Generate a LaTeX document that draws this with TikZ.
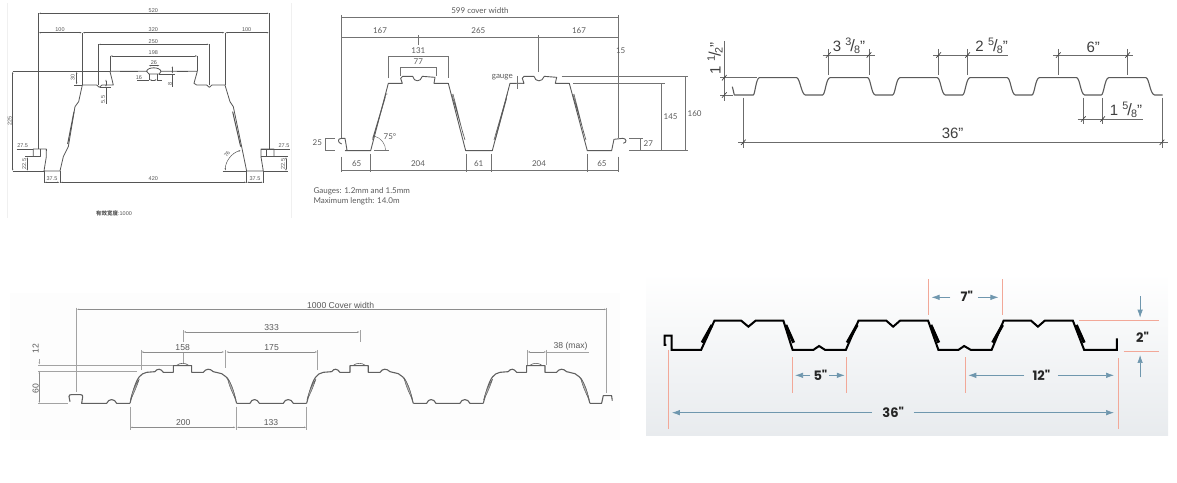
\documentclass[tikz,border=0pt]{standalone}
\usepackage{fontspec}
\setmainfont{Liberation Sans}
\newfontfamily\lightfont{Lato}
\newfontfamily\boldfont{Poppins}
\newfontfamily\cjkfont{Noto Sans CJK SC}
\usetikzlibrary{arrows.meta}
\definecolor{lineone}{HTML}{555555}
\definecolor{linetwo}{HTML}{5A5A5A}
\definecolor{linefour}{HTML}{8C8C8C}
\definecolor{sheetfour}{HTML}{606060}
\definecolor{redline}{HTML}{F2A898}
\definecolor{bluearrow}{HTML}{6F97AE}
\definecolor{backfoot}{HTML}{E8EBEE}
\newcommand{\dimfrac}[2]{\raisebox{.38em}{\scalebox{.72}{#1}}\kern-.06em\scalebox{1.1}{/}\kern-.06em\raisebox{-.14em}{\scalebox{.72}{#2}}}
\tikzset{
    zoomed/.style={x=0.3333pt,y=-0.3333pt},
    lineA/.style={lineone,line width=0.5pt},
    sheetA/.style={lineone,line width=0.8pt,line join=round},
    dimA/.style={lineA,{Latex[length=2.5pt,width=1.4pt]}-{Latex[length=2.5pt,width=1.4pt]}},
    textA/.style={font=\fontsize{5.5}{6}\selectfont,text=lineone,inner sep=0pt},
    lineB/.style={linetwo!85,line width=0.5pt},
    sheetB/.style={linetwo,line width=0.9pt,line join=round},
    textB/.style={font=\lightfont\fontsize{8}{9}\selectfont,text=linetwo,inner sep=0pt},
    lineC/.style={linetwo!90,line width=0.8pt},
    sheetC/.style={linetwo,line width=1.1pt,line join=round},
    textC/.style={font=\fontsize{15}{16}\selectfont,text=black!75,inner sep=0pt},
    slash/.style={black!75,line width=0.7pt},
    lineD/.style={linefour!80,line width=0.7pt},
    sheetD/.style={sheetfour,line width=1.1pt,line join=round},
    dimD/.style={linefour,line width=0.6pt,{Latex[length=2.5pt,width=1.5pt]}-{Latex[length=2.5pt,width=1.5pt]}},
    textD/.style={font=\fontsize{8.6}{9}\selectfont,text=black!65,inner sep=0pt},
    lineE/.style={redline,line width=0.6pt},
    sheetE/.style={black,line width=2pt,line join=miter},
    webE/.style={black,line width=3pt},
    arrowE/.style={bluearrow,line width=0.7pt,-{Latex[length=8pt,width=5.5pt]}},
    textE/.style={font=\boldfont\bfseries\fontsize{13}{14}\selectfont,text=black!85,inner sep=0pt},
}
\begin{document}
\begin{tikzpicture}[x=1pt,y=-1pt]
    \useasboundingbox (0,0) rectangle (1177,482);

    % Panel 1: top left, one big rib
    \begin{scope}[zoomed]
        \draw[black!6,line width=0.5pt] (22,10) -- (22,655) (874,10) -- (874,655);
        % sheet
        \draw[sheetA] (100,470) -- (100,447) -- (139,447) -- (139,470) -- (132,513) -- (180,513) -- (190,470) -- (205,440) -- (225,320) -- (236,305) -- (247,255) -- (290,255) -- (298,262) -- (306,255) -- (340,255) -- (330,214) -- (440,214) -- (447,222) -- (478,222) -- (483,214) -- (592,214) -- (582,250) -- (590,255) -- (620,255) -- (628,262) -- (636,255) -- (675,255) -- (690,305) -- (700,320) -- (725,440) -- (740,513) -- (790,513) -- (783,470) -- (783,447) -- (822,447) -- (822,470);
        \draw[sheetA] (100,470) -- (122,470) -- (122,447);
        \draw[sheetA] (800,470) -- (822,470) (800,447) -- (800,470);
        \draw[sheetA,line width=1pt] (203,432) -- (222,335);
        \draw[sheetA,line width=1pt] (698,335) -- (722,440);
        \draw[sheetA] (440,214) .. controls (442,200) and (480,200) .. (483,214);
        % long dimensions
        \draw[dimA] (115,40) -- (808,40);
        \draw[dimA] (115,98) -- (247,98);
        \draw[dimA] (247,98) -- (675,98);
        \draw[dimA] (675,98) -- (808,98);
        \draw[dimA] (294,133) -- (628,133);
        \draw[dimA] (330,168) -- (593,168);
        \draw[lineA] (115,40) -- (115,447) (808,40) -- (808,447) (247,98) -- (247,255) (675,98) -- (675,255);
        \draw[lineA] (294,133) -- (294,255) (628,133) -- (628,255) (330,168) -- (330,214) (593,168) -- (593,214);
        % left and right heights
        \draw[dimA] (38,214) -- (38,514);
        \draw[lineA] (38,214) -- (330,214) (38,514) -- (132,514);
        \draw[dimA] (230,214) -- (230,255);
        \draw[lineA] (222,255) -- (247,255);
        \draw[dimA] (318,237) -- (318,262);
        \draw[lineA] (318,262) -- (318,312) (300,262) -- (332,262);
        % details on the crown
        \draw[dimA] (445,197) -- (480,197);
        \draw[lineA] (360,214) -- (415,214) (530,214) -- (565,214);
        \draw[lineA] (447,222) -- (447,240) (472,222) -- (472,240);
        \draw[dimA] (447,240) -- (472,240);
        \draw[lineA] (412,240) -- (447,240) (472,240) -- (486,240);
        \draw[dimA] (517,197) -- (517,222);
        \draw[lineA] (517,222) -- (517,262) (478,222) -- (525,222);
        % flanges
        \draw[lineA] (50,447) -- (100,447) (139,447) -- (139,452);
        \draw[lineA] (782,447) -- (870,447);
        \draw[dimA] (82,470) -- (82,514);
        \draw[lineA] (76,470) -- (100,470);
        \draw[dimA] (858,470) -- (858,514);
        \draw[lineA] (783,470) -- (864,470) (790,514) -- (864,514);
        % bottom row
        \draw[dimA] (132,547) -- (180,547);
        \draw[dimA] (180,547) -- (740,547);
        \draw[dimA] (740,547) -- (790,547);
        \draw[lineA] (132,514) -- (132,550) (180,514) -- (180,550) (740,514) -- (740,550) (790,514) -- (790,550);
        % angle
        \draw[lineA] (668,513) -- (740,513);
        \draw[lineA,{Latex[length=2.5pt,width=1.4pt]}-{Latex[length=2.5pt,width=1.4pt]}] (676,513) arc[start angle=180,end angle=255,radius=64];
        % labels
        \node[textA] (aw520) at (460,32) {520};
        \node[textA] (aw100l) at (180,89) {100};
        \node[textA] (aw320) at (460,89) {320};
        \node[textA] (aw100r) at (740,89) {100};
        \node[textA] (aw250) at (460,126) {250};
        \node[textA] (aw198) at (460,158) {198};
        \node[textA] (aw26) at (462,188) {26};
        \node[textA] (aw16) at (417,232) {16};
        \node[textA,rotate=90] (ah8) at (510,252) {8};
        \node[textA,rotate=90] (ah30) at (218,233) {30};
        \node[textA,rotate=90] (ah55) at (309,298) {5.5};
        \node[textA,rotate=90] (ah225) at (29,362) {225};
        \node[textA] (af275l) at (68,437) {27.5};
        \node[textA] (af275r) at (852,437) {27.5};
        \node[textA,rotate=90] (af225l) at (73,492) {22.5};
        \node[textA,rotate=90] (af225r) at (849,492) {22.5};
        \node[textA] (ab375l) at (156,537) {37.5};
        \node[textA] (ab420) at (460,537) {420};
        \node[textA] (ab375r) at (765,537) {37.5};
        \node[textA,rotate=55] (aang) at (681,462) {76};
        \node[textA] (acap) at (342,640) {{\cjkfont\bfseries 有效宽度}:1000};
    \end{scope}

    % Panel 2: top middle, two ribs
    \begin{scope}[shift={(300,0)},zoomed]
        % sheet
        \draw[sheetB] (125,432) .. controls (112,428) and (112,415) .. (125,415) -- (135,415) -- (141,450) -- (136,452) -- (212,452) -- (265,250) -- (307,250) -- (302,235) -- (308,229) -- (338,229) .. controls (342,247) and (362,247) .. (367,229) -- (405,232) -- (402,250) -- (445,250) -- (497,452) -- (577,452) -- (630,250) -- (672,250) -- (667,235) -- (672,229) -- (702,229) .. controls (706,247) and (727,247) .. (733,229) -- (770,232) -- (766,250) -- (808,250) -- (862,452) -- (935,452) -- (942,418) -- (968,415) .. controls (980,415) and (982,428) .. (970,430);
        % doubled webs
        \draw[sheetB,line width=0.6pt] (218,415) -- (258,282) -- (262,282) (218,420) -- (256,292);
        \draw[sheetB,line width=0.6pt] (455,282) -- (495,420) (459,282) -- (490,405);
        \draw[sheetB,line width=0.6pt] (582,420) -- (622,282) (586,420) -- (620,295);
        \draw[sheetB,line width=0.6pt] (818,282) -- (858,420) (822,282) -- (853,405);
        % top dimensions
        \draw[lineB] (125,52) -- (955,52) (125,112) -- (955,112);
        \draw[lineB] (125,45) -- (125,415) (955,45) -- (955,415);
        \draw[lineB] (354,105) -- (354,135) (716,105) -- (716,215);
        \draw[lineB] (266,235) -- (266,168) -- (446,168) -- (446,235);
        \draw[lineB] (302,228) -- (302,203) -- (409,203) -- (409,228);
        % gauge mark
        \draw[lineB] (651,228) -- (651,268) (648,250) -- (668,250);
        % heights
        \draw[lineB] (785,230) -- (1163,230) (820,250) -- (1095,250) (988,452) -- (1163,452);
        \draw[lineB] (1155,230) -- (1155,452) (1085,250) -- (1085,452);
        \draw[lineB] (988,415) -- (1030,415) (1022,415) -- (1022,452);
        \draw[lineB] (105,415) -- (75,415) -- (75,452) -- (105,452);
        % angle
        \draw[lineB] (222,452) -- (268,452);
        \draw[lineB] (257,452) arc[start angle=0,end angle=-75,radius=45];
        % bottom row
        \draw[lineB] (125,510) -- (955,510);
        \draw[lineB] (125,470) -- (125,515) (211,462) -- (211,515) (499,462) -- (499,515) (575,462) -- (575,515) (862,462) -- (862,515) (955,470) -- (955,515);
        % labels
        \node[textB] (bcover) at (540,33) {599 cover width};
        \node[textB] (bt167l) at (240,92) {167};
        \node[textB] (bt265) at (535,92) {265};
        \node[textB] (bt167r) at (837,92) {167};
        \node[textB] (bw131) at (355,152) {131};
        \node[textB] (bw15) at (962,152) {15};
        \node[textB] (bw77) at (355,185) {77};
        \node[textB] (bgauge) at (607,232) {gauge};
        \node[textB] (bh160) at (1184,340) {160};
        \node[textB] (bh145) at (1112,350) {145};
        \node[textB] (bh27) at (1045,432) {27};
        \node[textB] (bh25) at (52,429) {25};
        \node[textB] (bang) at (270,410) {75°};
        \node[textB] (bb65l) at (170,491) {65};
        \node[textB] (bb204l) at (354,491) {204};
        \node[textB] (bb61) at (536,491) {61};
        \node[textB] (bb204r) at (717,491) {204};
        \node[textB] (bb65r) at (906,491) {65};
        \node[textB,anchor=west] (bnote1) at (40,573) {Gauges: 1.2mm and 1.5mm};
        \node[textB,anchor=west] (bnote2) at (40,603) {Maximum length: 14.0m};
    \end{scope}

    % Panel 3: top right, six ribs
    \begin{scope}[shift={(700,25)},zoomed]
        % sheet
        \draw[sheetC] (97,185) -- (103,210) -- (160,210) .. controls (165,208) and (168,160) .. (178,158) -- (290,158) .. controls (300,160) and (304,208) .. (316,210) -- (368,210) .. controls (376,208) and (378,160) .. (390,158) -- (503,158) .. controls (512,160) and (514,208) .. (526,210) -- (578,210) .. controls (586,208) and (588,160) .. (600,158) -- (712,158) .. controls (722,160) and (724,208) .. (736,210) -- (788,210) .. controls (796,208) and (798,160) .. (810,158) -- (922,158) .. controls (932,160) and (934,208) .. (946,210) -- (996,210) .. controls (1004,208) and (1006,160) .. (1018,158) -- (1130,158) .. controls (1140,160) and (1142,208) .. (1154,210) -- (1204,210) .. controls (1212,208) and (1214,160) .. (1226,158) -- (1338,158) .. controls (1348,160) and (1350,208) .. (1364,210) -- (1388,210);
        % left height
        \draw[lineC] (73,48) -- (73,228) (60,158) -- (170,158) (60,210) -- (100,210);
        \foreach \ticky in {158,210}
            \draw[slash] (66,\ticky+8) -- (80,\ticky-8);
        % top dimensions
        \draw[lineC] (368,90) -- (525,90) (385,72) -- (385,150) (507,72) -- (507,150);
        \draw[lineC] (700,90) -- (925,90) (716,72) -- (716,150) (803,72) -- (803,150);
        \draw[lineC] (1060,90) -- (1300,90) (1075,72) -- (1075,150) (1283,72) -- (1283,150);
        \foreach \tickx in {385,507,716,803,1075,1283}
            \draw[slash] (\tickx-7,98) -- (\tickx+7,82);
        % bottom dimensions
        \draw[lineC] (1133,282) -- (1328,282) (1150,218) -- (1150,298) (1208,218) -- (1208,298);
        \draw[lineC] (115,352) -- (1403,352) (130,218) -- (130,368) (1386,218) -- (1386,368);
        \foreach \tickx in {1150,1208}
            \draw[slash] (\tickx-7,290) -- (\tickx+7,274);
        \foreach \tickx in {130,1386}
            \draw[slash] (\tickx-7,360) -- (\tickx+7,344);
        % labels
        \node[textC,rotate=90] (ch112) at (45,100) {1 \dimfrac{1}{2}"};
        \node[textC] (cw338) at (447,62) {3 \dimfrac{3}{8}"};
        \node[textC] (cw258) at (875,62) {2 \dimfrac{5}{8}"};
        \node[textC] (cw6) at (1180,68) {6"};
        \node[textC] (cw158) at (1278,255) {1 \dimfrac{5}{8}"};
        \node[textC] (cw36) at (758,326) {36"};
    \end{scope}

    % Panel 4: bottom left, three round ribs
    \begin{scope}[shift={(0,285)},zoomed]
        \fill[black!0.7] (30,25) rectangle (1860,465);
        % sheet
        \draw[sheetD] (210,350) -- (207,335) .. controls (207,330) and (210,329) .. (214,329) -- (242,329) .. controls (247,329) and (249,332) .. (248,336) -- (245,355) -- (320,355) .. controls (326,340) and (344,340) .. (350,355) -- (390,355);
        \foreach \ribx in {0,530,1060} {
            \begin{scope}[shift={(\ribx,0)}]
                \draw[sheetD] (390,355) -- (402,310) .. controls (412,280) and (420,266) .. (440,262) -- (465,260) .. controls (472,250) and (482,250) .. (490,262) -- (520,262) -- (520,242) -- (575,242) -- (575,262) -- (610,262) .. controls (618,250) and (630,250) .. (640,260) -- (665,266) .. controls (685,275) and (694,300) .. (700,320) -- (710,355);
                \draw[sheetD,line width=0.6pt] (530,241) .. controls (540,233) and (556,233) .. (566,241);
                \draw[sheetD,line width=0.5pt,fill=black!30] (391,345) .. controls (397,320) and (405,300) .. (418,282) .. controls (410,305) and (402,325) .. (391,345);
                \draw[sheetD,line width=0.5pt,fill=black!30] (708,345) .. controls (702,320) and (695,298) .. (682,278) .. controls (688,305) and (698,325) .. (708,345);
            \end{scope}
        }
        \foreach \ribx in {0,530}
            \draw[sheetD,shift={(\ribx,0)}] (710,355) -- (750,355) .. controls (755,340) and (772,340) .. (778,355) -- (850,355) .. controls (855,340) and (874,340) .. (880,355) -- (920,355);
        \draw[sheetD] (1770,355) -- (1805,355) -- (1810,332) -- (1835,332) -- (1837,347);
        % top dimensions
        \draw[dimD] (230,73) -- (1820,73);
        \draw[lineD] (230,68) -- (230,322) (1820,68) -- (1820,325);
        \draw[dimD] (550,141) -- (1080,141);
        \draw[lineD] (550,135) -- (550,172) (550,203) -- (550,235) (1080,135) -- (1080,170);
        \draw[dimD] (423,201) -- (673,201);
        \draw[dimD] (678,201) -- (953,201);
        \draw[lineD] (423,195) -- (423,255) (675,195) -- (675,250) (953,195) -- (953,255);
        \draw[dimD] (1582,201) -- (1640,201);
        \draw[lineD] (1582,195) -- (1582,240) (1640,195) -- (1640,240) (1640,201) -- (1767,201);
        % left heights
        \draw[lineD] (115,240) -- (520,240) (115,258) -- (410,258) (115,355) -- (205,355);
        \draw[lineD,-{Latex[length=2.5pt,width=1.5pt]}] (118,222) -- (118,240);
        \draw[dimD] (118,258) -- (118,355);
        % bottom row
        \draw[dimD] (390,427) -- (708,427);
        \draw[dimD] (710,427) -- (920,427);
        \draw[lineD] (390,365) -- (390,435) (710,365) -- (710,435) (920,365) -- (920,435);
        % labels
        \node[textD] (dcover) at (1022,61) {1000 Cover width};
        \node[textD] (dw333) at (815,127) {333};
        \node[textD] (dw158) at (548,187) {158};
        \node[textD] (dw175) at (815,187) {175};
        \node[textD] (dw38) at (1712,183) {38 (max)};
        \node[textD,rotate=90] (dh12) at (107,190) {12};
        \node[textD,rotate=90] (dh60) at (107,310) {60};
        \node[textD] (db200) at (550,412) {200};
        \node[textD] (db133) at (813,412) {133};
    \end{scope}

    % Panel 5: bottom right, shaded backing
    \begin{scope}[shift={(640,270)},x=0.343pt,y=-0.3333pt]
        \shade[top color=white,bottom color=backfoot] (18,10) rectangle (1540,497);
        % sheet
        \draw[sheetE] (77,225) -- (72,225) -- (72,197) -- (92,197) -- (92,240) -- (178,240) -- (217,152) -- (295,152) -- (316,170) -- (337,152) -- (418,152) -- (445,240) -- (505,240) -- (522,228) -- (540,240) -- (600,240) -- (637,152) -- (718,152) -- (738,170) -- (758,152) -- (840,152) -- (870,240) -- (928,240) -- (945,228) -- (965,240) -- (1025,240) -- (1060,152) -- (1140,152) -- (1160,170) -- (1180,152) -- (1262,152) -- (1295,240) -- (1390,240) -- (1390,205);
        \foreach \webx in {0,423,847} {
            \draw[webE] (\webx+181,218) -- (\webx+210,165);
            \draw[webE] (\webx+425,165) -- (\webx+448,218);
        }
        % red guide lines
        \draw[lineE] (840,27) -- (840,135) (1055,27) -- (1055,135);
        \draw[lineE] (1280,150) -- (1512,150) (1410,245) -- (1512,245);
        \draw[lineE] (445,262) -- (445,370) (601,262) -- (601,370) (947,262) -- (947,370);
        \draw[lineE] (1393,265) -- (1393,478) (83,240) -- (83,476);
        % labels
        \node[textE] (ew7) at (953,80) {7"};
        \node[textE] (ew5) at (526,316) {5"};
        \node[textE] (ew12) at (1170,316) {12"};
        \node[textE] (ew36) at (738,428) {36"};
        \node[textE] (eh2) at (1465,202) {2"};
        % blue arrows
        \coordinate (a7l) at (850,82);
        \coordinate (a7r) at (1045,82);
        \coordinate (a5l) at (452,316);
        \coordinate (a5r) at (597,316);
        \coordinate (a12l) at (957,316);
        \coordinate (a12r) at (1382,316);
        \coordinate (a36l) at (93,428);
        \coordinate (a36r) at (1382,428);
        \coordinate (a2t) at (1458,78);
        \coordinate (a2te) at (1458,143);
        \coordinate (a2b) at (1458,322);
        \coordinate (a2be) at (1458,255);
        \draw[arrowE] (ew7) ++(-48,2) -- (a7l);
        \draw[arrowE] (ew7) ++(32,2) -- (a7r);
        \draw[arrowE] (ew5) ++(-29,0) -- (a5l);
        \draw[arrowE] (ew5) ++(26,0) -- (a5r);
        \draw[arrowE] (ew12) ++(-50,0) -- (a12l);
        \draw[arrowE] (ew12) ++(48,0) -- (a12r);
        \draw[arrowE] (ew36) ++(-61,0) -- (a36l);
        \draw[arrowE] (ew36) ++(60,0) -- (a36r);
        \draw[arrowE] (a2t) -- (a2te);
        \draw[arrowE] (a2b) -- (a2be);
    \end{scope}
\end{tikzpicture}
\end{document}
